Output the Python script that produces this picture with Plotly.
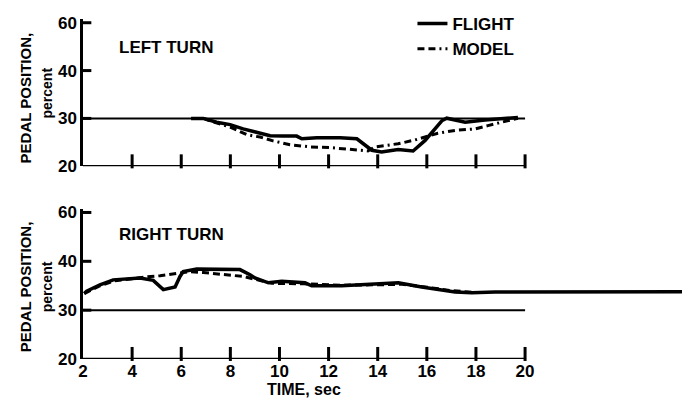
import plotly.graph_objects as go

# ---- data ----
left_flight_t = [6.4, 6.9, 7.44, 7.99, 8.52, 9.07, 9.62, 10.14, 10.70, 10.91, 11.52, 12.47, 13.15,
                 13.76, 14.16, 14.83, 15.44, 15.93, 16.61, 16.81, 17.56, 18.37, 19.71]
left_flight_v = [30.0, 30.0, 29.2, 28.7, 27.8, 27.1, 26.4, 26.3, 26.3, 25.75, 25.96, 25.96, 25.75,
                 23.35, 23.0, 23.5, 23.2, 25.4, 29.5, 30.05, 29.2, 29.65, 30.2]
left_model_t = [6.9, 7.17, 7.99, 8.67, 9.21, 9.74, 10.43, 11.24, 12.06, 13.15, 13.6, 13.89, 14.83,
                15.52, 16.45, 17.15, 17.96, 18.49, 19.05, 19.71]
left_model_v = [30.0, 29.5, 28.2, 26.6, 26.1, 25.3, 24.5, 24.05, 23.9, 23.35, 23.2, 24.05, 24.7,
                25.5, 26.9, 27.5, 27.8, 28.5, 29.2, 30.05]

right_flight_t = [2.05, 2.15, 2.69, 3.23, 4.32, 4.86, 5.27, 5.75, 5.95, 6.08, 6.63, 8.39, 8.80, 9.0,
                  9.55, 10.09, 11.04, 11.31, 12.53, 14.84, 15.79, 16.61, 17.15, 17.83, 18.78, 26.39]
right_flight_v = [33.4, 33.9, 35.2, 36.2, 36.6, 36.1, 34.2, 34.75, 36.9, 37.9, 38.4, 38.3, 37.25, 36.6,
                  35.6, 35.9, 35.6, 35.0, 35.0, 35.6, 34.75, 34.1, 33.7, 33.55, 33.7, 33.75]
right_model_t = [2.05, 2.7, 3.3, 4.0, 4.59, 5.14, 5.95, 6.36, 6.90, 7.71, 8.53, 8.94, 9.7, 11.0,
                 12.5, 14.0, 15.0, 16.0, 17.0, 18.0]
right_model_v = [33.4, 35.0, 36.0, 36.5, 36.8, 37.05, 37.6, 37.9, 37.7, 37.25, 36.9, 36.4, 35.5, 35.4,
                 35.1, 35.2, 35.3, 34.7, 34.0, 33.6]

ref_t = [2, 20]
ref_v = [30, 30]

x_ticks = [2, 4, 6, 8, 10, 12, 14, 16, 18, 20]
x_ticktext = ["2", "4", "6", "8", "10", "12", "14", "16", "18", "20"]
y_ticks = [20, 30, 40, 50]
y_ticktext = ["20", "30", "40", "60"]

FONT = "Liberation Sans, Arial, sans-serif"
BLACK = "#000000"

xr = [2, 26.39]
yr = [20, 50.7]
TICK_X_OFFSET = 1.03   # half of a 10 px tick, in value units
TICK_Y_OFFSET = 0.14   # half of a 7 px tick, in time units

fig = go.Figure()

for xa, ya in (("x", "y"), ("x2", "y2")):
    # inward tick marks on the time axis and on the value axis
    fig.add_trace(go.Scatter(x=x_ticks[1:], y=[yr[0] + TICK_X_OFFSET] * (len(x_ticks) - 1),
                             mode="markers", cliponaxis=False, hoverinfo="skip",
                             marker=dict(symbol="line-ns", size=10, color=BLACK,
                                         line=dict(color=BLACK, width=3)),
                             showlegend=False, xaxis=xa, yaxis=ya))
    fig.add_trace(go.Scatter(x=[x_ticks[0] + TICK_Y_OFFSET] * (len(y_ticks) - 1), y=y_ticks[1:],
                             mode="markers", cliponaxis=False, hoverinfo="skip",
                             marker=dict(symbol="line-ew", size=7, color=BLACK,
                                         line=dict(color=BLACK, width=3)),
                             showlegend=False, xaxis=xa, yaxis=ya))
    fig.add_trace(go.Scatter(x=ref_t, y=ref_v, mode="lines", line=dict(color=BLACK, width=2),
                             showlegend=False, xaxis=xa, yaxis=ya))

# top panel (LEFT TURN)
fig.add_trace(go.Scatter(x=left_flight_t, y=left_flight_v, mode="lines", name="FLIGHT",
                         line=dict(color=BLACK, width=3.5), legendgroup="f",
                         xaxis="x", yaxis="y"))
fig.add_trace(go.Scatter(x=left_model_t, y=left_model_v, mode="lines", name="MODEL",
                         line=dict(color=BLACK, width=3, dash="7px,4px,7px,4px,2px,4px"),
                         legendgroup="m", xaxis="x", yaxis="y"))

# bottom panel (RIGHT TURN)
fig.add_trace(go.Scatter(x=right_flight_t, y=right_flight_v, mode="lines",
                         line=dict(color=BLACK, width=3.5), showlegend=False,
                         xaxis="x2", yaxis="y2"))
fig.add_trace(go.Scatter(x=right_model_t, y=right_model_v, mode="lines",
                         line=dict(color=BLACK, width=3, dash="7px,4px"), showlegend=False,
                         xaxis="x2", yaxis="y2"))

tick_font = dict(family=FONT, size=17, color=BLACK, weight="bold")

shapes = []
for xa, ya in (("x", "y"), ("x2", "y2")):
    shapes.append(dict(type="line", xref=xa, yref=ya, x0=x_ticks[0], x1=x_ticks[-1],
                       y0=yr[0], y1=yr[0], line=dict(color=BLACK, width=2.5)))

fig.update_layout(
    width=682, height=406,
    margin=dict(l=83, r=0, t=0, b=47),
    paper_bgcolor="white", plot_bgcolor="white",
    font=dict(family=FONT, color=BLACK),
    xaxis=dict(range=xr, showgrid=False, zeroline=False, showline=False,
               tickvals=x_ticks, ticks="", domain=[0, 1], anchor="y", showticklabels=False),
    yaxis=dict(range=yr, showgrid=False, zeroline=False, showline=True,
               linewidth=2.5, linecolor=BLACK, tickvals=y_ticks, ticktext=y_ticktext,
               ticks="", tickfont=tick_font, domain=[0.546, 0.9621], anchor="x"),
    xaxis2=dict(range=xr, showgrid=False, zeroline=False, showline=False,
                tickvals=x_ticks, ticktext=x_ticktext, ticks="", tickfont=tick_font,
                domain=[0, 1], anchor="y2", showticklabels=True),
    yaxis2=dict(range=yr, showgrid=False, zeroline=False, showline=True,
                linewidth=2.5, linecolor=BLACK, tickvals=y_ticks, ticktext=y_ticktext,
                ticks="", tickfont=tick_font, domain=[0, 0.4248], anchor="x2"),
    legend=dict(x=0.55, y=1.0, xanchor="left", yanchor="top",
                font=dict(family=FONT, size=17, color=BLACK, weight="bold"),
                tracegroupgap=0, bgcolor="rgba(0,0,0,0)"),
    shapes=shapes,
    annotations=[
        dict(text="LEFT TURN", xref="x", yref="y", x=3.38, y=44.9, xanchor="left",
             yanchor="middle", showarrow=False,
             font=dict(family=FONT, size=17, color=BLACK, weight="bold")),
        dict(text="RIGHT TURN", xref="x2", yref="y2", x=3.38, y=45.4, xanchor="left",
             yanchor="middle", showarrow=False,
             font=dict(family=FONT, size=17, color=BLACK, weight="bold")),
        dict(text="TIME, sec", xref="x2", yref="paper", x=11, y=-0.085, xanchor="center",
             yanchor="middle", showarrow=False,
             font=dict(family=FONT, size=16, color=BLACK, weight="bold")),
        dict(text="PEDAL POSITION,", xref="paper", yref="paper", x=-0.0968, y=(359 - 94) / 359,
             textangle=-90, xanchor="center", yanchor="middle", showarrow=False,
             font=dict(family=FONT, size=15, color=BLACK, weight="bold")),
        dict(text="percent", xref="paper", yref="paper", x=-0.0601, y=(359 - 89) / 359,
             textangle=-90, xanchor="center", yanchor="middle", showarrow=False,
             font=dict(family=FONT, size=14, color=BLACK, weight="bold")),
        dict(text="PEDAL POSITION,", xref="paper", yref="paper", x=-0.0968, y=(359 - 286) / 359,
             textangle=-90, xanchor="center", yanchor="middle", showarrow=False,
             font=dict(family=FONT, size=15, color=BLACK, weight="bold")),
        dict(text="percent", xref="paper", yref="paper", x=-0.0601, y=(359 - 286) / 359,
             textangle=-90, xanchor="center", yanchor="middle", showarrow=False,
             font=dict(family=FONT, size=14, color=BLACK, weight="bold")),
    ],
)

fig.write_html("out.html")
